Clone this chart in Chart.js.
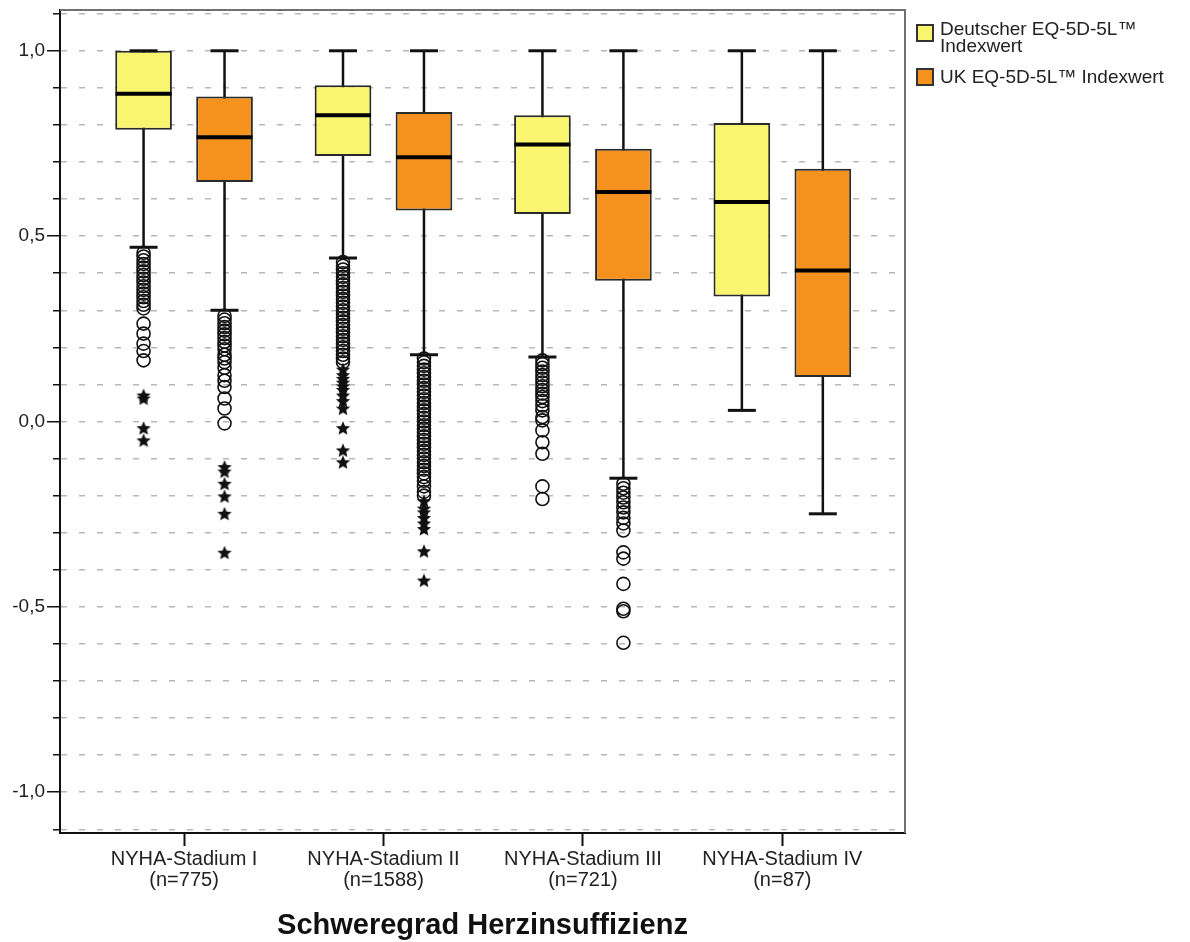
<!DOCTYPE html>
<html>
<head>
<meta charset="utf-8">
<script src="https://cdn.jsdelivr.net/npm/chart.js@4"></script>
<style>
  html, body { margin: 0; padding: 0; background: #fff; }
  #wrap { position: relative; width: 1190px; height: 942px; }
  #c { position: absolute; left: 0; top: 0; }
  .lg-box { position: absolute; width: 18px; height: 18px; box-sizing: border-box; border: 2px solid #333; }
  .lg-txt { position: absolute; font-family: 'Liberation Sans', Arial, sans-serif; font-size: 19px; line-height: 17px; color: #222; white-space: nowrap; }
</style>
</head>
<body>
<div id="wrap">
  <canvas id="c" width="1190" height="942"></canvas>
  <div class="lg-box" style="left:916px; top:24px; background:#FAF56E;"></div>
  <div class="lg-txt" style="left:940px; top:20px;">Deutscher EQ-5D-5L™<br>Indexwert</div>
  <div class="lg-box" style="left:916px; top:68px; background:#F5921E;"></div>
  <div class="lg-txt" style="left:940px; top:68px;">UK EQ-5D-5L™ Indexwert</div>
</div>
<script>
// ---------------- data ----------------
const categories = ['NYHA-Stadium I', 'NYHA-Stadium II', 'NYHA-Stadium III', 'NYHA-Stadium IV'];
const nLabels = ['(n=775)', '(n=1588)', '(n=721)', '(n=87)'];
const seriesNames = ['Deutscher EQ-5D-5L™ Indexwert', 'UK EQ-5D-5L™ Indexwert'];

const deMin = [0.470, 0.441, 0.174, 0.030];
const deQ1  = [0.787, 0.716, 0.560, 0.337];
const deMed = [0.884, 0.826, 0.747, 0.592];
const deQ3  = [1.000, 0.907, 0.826, 0.805];
const deMax = [1.000, 1.000, 1.000, 1.000];

const ukMin = [0.300, 0.180, -0.153, -0.249];
const ukQ1  = [0.646, 0.569, 0.380, 0.120];
const ukMed = [0.767, 0.713, 0.619, 0.407];
const ukQ3  = [0.877, 0.835, 0.736, 0.682];
const ukMax = [1.000, 1.000, 1.000, 1.000];

// outliers (circles) and extreme values (stars), per category
const deCircles = [
  [0.455,0.445,0.435,0.425,0.415,0.405,0.395,0.385,0.375,0.365,0.355,0.345,0.335,0.325,0.315,0.305,0.264,0.237,0.210,0.190,0.165],
  [0.430,0.420,0.410,0.400,0.390,0.380,0.370,0.360,0.350,0.340,0.330,0.320,0.310,0.300,0.290,0.280,0.270,0.260,0.250,0.240,0.230,0.220,0.210,0.200,0.190,0.180,0.170,0.160],
  [0.165,0.155,0.145,0.135,0.125,0.115,0.105,0.095,0.085,0.075,0.066,0.055,0.043,0.030,0.012,0.003,-0.024,-0.056,-0.087,-0.175,-0.209],
  []
];
const deStars = [
  [0.070, 0.062, -0.018, -0.051],
  [0.140, 0.125, 0.115, 0.105, 0.095, 0.085, 0.070, 0.055, 0.035, -0.018, -0.078, -0.110],
  [],
  []
];
const ukCircles = [
  [0.285,0.275,0.265,0.255,0.245,0.235,0.225,0.215,0.205,0.195,0.180,0.170,0.160,0.145,0.125,0.110,0.093,0.062,0.035,-0.005],
  [0.170,0.160,0.150,0.140,0.130,0.120,0.110,0.100,0.090,0.080,0.070,0.060,0.050,0.040,0.030,0.020,0.010,0.000,-0.010,-0.020,-0.030,-0.040,-0.050,-0.060,-0.070,-0.080,-0.090,-0.100,-0.110,-0.120,-0.130,-0.140,-0.150,-0.160,-0.175,-0.190,-0.200],
  [-0.168,-0.180,-0.192,-0.205,-0.218,-0.232,-0.245,-0.260,-0.275,-0.294,-0.353,-0.370,-0.438,-0.505,-0.512,-0.597],
  []
];
const ukStars = [
  [-0.123, -0.135, -0.168, -0.202, -0.249, -0.354],
  [-0.215, -0.235, -0.245, -0.260, -0.275, -0.290, -0.350, -0.429],
  [],
  []
];

const yTickValues = [-1.1,-1.0,-0.9,-0.8,-0.7,-0.6,-0.5,-0.4,-0.3,-0.2,-0.1,0,0.1,0.2,0.3,0.4,0.5,0.6,0.7,0.8,0.9,1.0,1.1];
const yMajorValues = [-1.0, -0.5, 0, 0.5, 1.0];
const yMajorLabels = ['-1,0', '-0,5', '0,0', '0,5', '1,0'];

// ---------------- styles ----------------
const FONT = "'Liberation Sans', Arial, sans-serif";
const YELLOW = '#FAF56E';
const ORANGE = '#F5921E';
const CAT_PCT = 0.812;
const BAR_PCT = 0.70;
const OFF = CAT_PCT / 4;   // center offset of each group member in x units

Chart.defaults.font.family = FONT;

function majorIndex(v) {
  for (let k = 0; k < yMajorValues.length; k++) if (Math.abs(v - yMajorValues[k]) < 1e-6) return k;
  return -1;
}

function makeStar(size) {
  const c = document.createElement('canvas');
  c.width = size; c.height = size;
  const g = c.getContext('2d');
  const cx = size / 2, cy = size / 2 + 0.5, R = size / 2 - 0.5, r = R * 0.45;
  g.beginPath();
  for (let k = 0; k < 10; k++) {
    const a = -Math.PI / 2 + k * Math.PI / 5;
    const rr = (k % 2) ? r : R;
    g.lineTo(cx + rr * Math.cos(a), cy + rr * Math.sin(a));
  }
  g.closePath();
  g.fillStyle = '#111';
  g.fill();
  return c;
}
const starImg = makeStar(16);

// ---------------- datasets built from arrays ----------------
function whiskerData(mins, maxs, off) {
  const out = [];
  categories.forEach((_, i) => {
    out.push({x: i + off, y: mins[i]});
    out.push({x: i + off, y: maxs[i]});
    out.push({x: i + off, y: null});
  });
  return out;
}
function pointsAt(values, off) {
  return categories.map((_, i) => ({x: i + off, y: values[i]}));
}
function outlierPoints(list, off) {
  const out = [];
  list.forEach((vals, i) => vals.forEach(v => out.push({x: i + off, y: v})));
  return out;
}

const datasets = [
  { type: 'line', label: 'wDE', data: whiskerData(deMin, deMax, -OFF), borderColor: '#111', borderWidth: 2.5, pointRadius: 0, spanGaps: false, order: 5 },
  { type: 'line', label: 'wUK', data: whiskerData(ukMin, ukMax, OFF), borderColor: '#111', borderWidth: 2.5, pointRadius: 0, spanGaps: false, order: 5 },
  { type: 'bar', label: seriesNames[0], data: categories.map((_, i) => ({x: i, y: [deQ1[i], deQ3[i]]})),
    backgroundColor: YELLOW, borderColor: '#2a2a2a', borderWidth: 2, borderSkipped: false,
    categoryPercentage: CAT_PCT, barPercentage: BAR_PCT, order: 4 },
  { type: 'bar', label: seriesNames[1], data: categories.map((_, i) => ({x: i, y: [ukQ1[i], ukQ3[i]]})),
    backgroundColor: ORANGE, borderColor: '#2a2a2a', borderWidth: 2, borderSkipped: false,
    categoryPercentage: CAT_PCT, barPercentage: BAR_PCT, order: 4 },
  { type: 'scatter', label: 'medians', data: pointsAt(deMed, -OFF).concat(pointsAt(ukMed, OFF)),
    pointStyle: 'line', pointRadius: 28, borderColor: '#000', borderWidth: 4, order: 2 },
  { type: 'scatter', label: 'caps', data: pointsAt(deMin, -OFF).concat(pointsAt(deMax, -OFF), pointsAt(ukMin, OFF), pointsAt(ukMax, OFF)),
    pointStyle: 'line', pointRadius: 14, borderColor: '#111', borderWidth: 3, order: 2 },
  { type: 'scatter', label: 'outliers', data: outlierPoints(deCircles, -OFF).concat(outlierPoints(ukCircles, OFF)),
    pointStyle: 'circle', pointRadius: 6.5, backgroundColor: 'rgba(0,0,0,0)', borderColor: '#111', borderWidth: 1.6, order: 1 },
  { type: 'scatter', label: 'extremes', data: outlierPoints(deStars, -OFF).concat(outlierPoints(ukStars, OFF)),
    pointStyle: starImg, pointRadius: 8, order: 1 }
];

const framePlugin = {
  id: 'frame',
  afterDraw(chart) {
    const {ctx, chartArea: a} = chart;
    ctx.save();
    ctx.strokeStyle = '#707070';
    ctx.lineWidth = 2;
    ctx.beginPath();
    ctx.moveTo(a.left, a.top);
    ctx.lineTo(a.right, a.top);
    ctx.lineTo(a.right, a.bottom);
    ctx.stroke();
    ctx.restore();
  }
};

new Chart(document.getElementById('c'), {
  type: 'bar',
  data: { datasets },
  plugins: [framePlugin],
  options: {
    responsive: false,
    devicePixelRatio: 1,
    animation: false,
    events: [],
    layout: { autoPadding: false, padding: { left: 0, top: 10, right: 285, bottom: 0 } },
    plugins: { legend: { display: false }, tooltip: { enabled: false } },
    scales: {
      x: {
        type: 'linear',
        min: -0.622,
        max: 3.615,
        offset: false,
        afterBuildTicks: s => { s.ticks = categories.map((_, i) => ({value: i})); },
        afterFit: s => { s.height = 109; s.paddingLeft = 0; s.paddingRight = 0; },
        grid: { offset: false, drawOnChartArea: false, drawTicks: true, tickLength: 13, tickWidth: 2, tickColor: '#111' },
        border: { display: true, color: '#111', width: 2 },
        ticks: {
          autoSkip: false, maxRotation: 0, padding: 3, color: '#222',
          font: { size: 20, lineHeight: 1.05 },
          callback: (v, idx) => [categories[idx], nLabels[idx]]
        },
        title: {
          display: true, text: 'Schweregrad Herzinsuffizienz', color: '#111',
          font: { size: 29, weight: 'bold', lineHeight: 1.1 }, padding: 0
        }
      },
      y: {
        type: 'linear',
        min: -1.11,
        max: 1.11,
        afterBuildTicks: s => { s.ticks = yTickValues.map(v => ({value: v})); },
        afterFit: s => { s.width = 60; s.paddingTop = 0; s.paddingBottom = 0; },
        grid: {
          color: '#b8b8b8', lineWidth: 1.5,
          drawTicks: true, tickLength: 13, tickWidth: 1.5, tickColor: '#111',
          tickBorderDash: ctx => (ctx.tick && majorIndex(ctx.tick.value) >= 0) ? [] : [0, 6, 20, 100]
        },
        border: { display: true, color: '#111', width: 2, dash: [6, 12] },
        ticks: {
          autoSkip: false, padding: 2, color: '#222',
          font: { size: 19 },
          callback: v => { const k = majorIndex(v); return k >= 0 ? yMajorLabels[k] : ''; }
        }
      }
    }
  }
});
</script>
</body>
</html>
